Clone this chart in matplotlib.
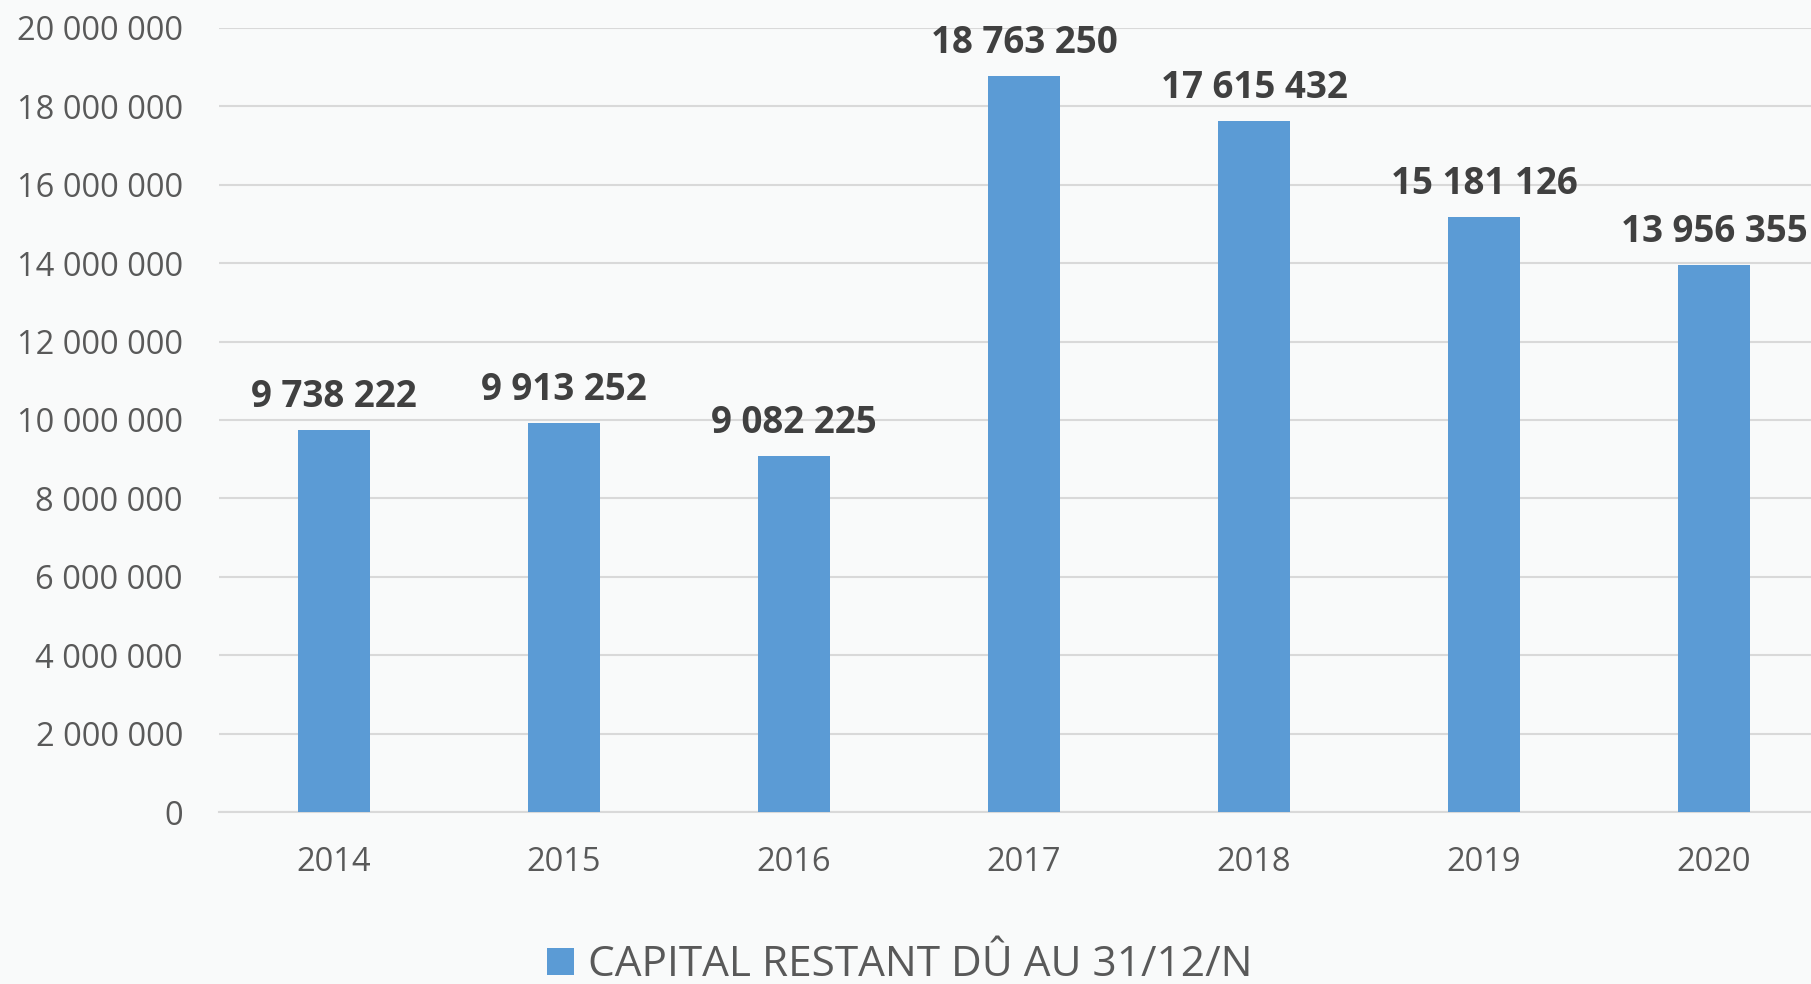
import matplotlib.pyplot as plt
import numpy as np
from matplotlib.patches import Patch

# Data
years = ['2014', '2015', '2016', '2017', '2018', '2019', '2020']
capital = [9738222, 9913252, 9082225, 18763250, 17615432, 15181126, 13956355]
series_name = 'CAPITAL RESTANT DÛ AU 31/12/N'

bar_color = '#5B9BD5'
bg_color = '#F9FAFA'
grid_color = '#D9D9D9'
tick_color = '#595959'
label_color = '#404040'

plt.rcParams['font.family'] = ['Open Sans', 'DejaVu Sans']


def fmt(v):
    return '{:,}'.format(int(v)).replace(',', ' ')


fig = plt.figure(figsize=(18.11, 9.84), dpi=100, facecolor=bg_color)
# axes spans a little past the right edge, like the original
ax = fig.add_axes([219 / 1811, 1 - 812.3 / 984, 1610 / 1811, (812.3 - 27.7) / 984])
ax.set_facecolor(bg_color)

x = np.arange(len(years))
ax.bar(x, capital, width=0.313, color=bar_color, zorder=3)

# Data labels
for xi, v in zip(x, capital):
    ax.annotate(fmt(v), (xi, v), xytext=(0, 16.5), textcoords='offset points',
                ha='center', va='baseline', fontsize=26.5, fontweight='bold',
                color=label_color, zorder=4, annotation_clip=False)

# Axes and grid
ax.set_xlim(-0.5, len(years) - 0.5)
ax.set_ylim(0, 20000000)
yticks = np.arange(0, 20000001, 2000000)
ax.set_yticks(yticks)
ax.set_yticklabels([fmt(t) for t in yticks])
ax.set_xticks(x)
ax.set_xticklabels(years)
ax.tick_params(axis='y', length=0, pad=26, labelsize=23.5, labelcolor=tick_color)
ax.tick_params(axis='x', length=0, pad=24, labelsize=23.5, labelcolor=tick_color)
ax.grid(True, axis='y', color=grid_color, lw=1.5, zorder=0)

for s in ['top', 'right', 'left']:
    ax.spines[s].set_visible(False)
ax.spines['bottom'].set_color(grid_color)
ax.spines['bottom'].set_linewidth(1.5)

# Legend
handle = Patch(facecolor=bar_color, label=series_name)
fig.legend(handles=[handle], loc='center', bbox_to_anchor=(0.497, 0.019),
           frameon=False, fontsize=30.5, labelcolor=tick_color,
           handlelength=0.62, handleheight=0.62, handletextpad=0.35,
           borderpad=0, borderaxespad=0)

fig.savefig('out.png', dpi=100, facecolor=bg_color)
